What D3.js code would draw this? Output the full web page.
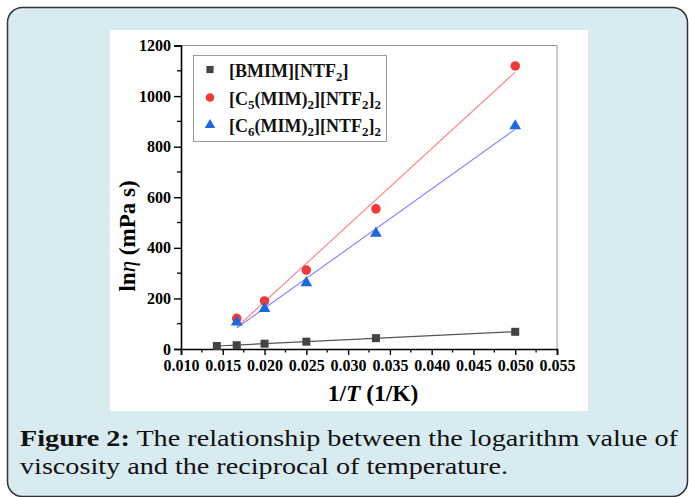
<!DOCTYPE html>
<html><head><meta charset="utf-8">
<script src="https://cdn.jsdelivr.net/npm/d3@7/dist/d3.min.js"></script>
<style>body{margin:0;background:#fff;} svg{display:block;} svg text{font-family:"Liberation Serif","Times New Roman",Times,serif;}</style>
</head><body>
<svg id="c" width="689" height="497"></svg>
<script>
// ---- data ----
const bmimX = [0.01429, 0.01667, 0.02, 0.025, 0.03333, 0.05];
const bmimY = [12, 15, 21, 29, 43, 68];
const c5X = [0.01667, 0.02, 0.025, 0.03333, 0.05];
const c5Y = [121, 190, 312, 554, 1119];
const c6X = [0.01667, 0.02, 0.025, 0.03333, 0.05];
const c6Y = [106, 160, 262, 457, 882];
const xTicks = [0.010, 0.015, 0.020, 0.025, 0.030, 0.035, 0.040, 0.045, 0.050, 0.055];
const yTicks = [0, 200, 400, 600, 800, 1000, 1200];
const captionBold = "Figure 2:";
const captionLine1 = " The relationship between the logarithm value of";
const captionLine2 = "viscosity and the reciprocal of temperature.";

const svg = d3.select("#c");
const serif = '"Liberation Serif","Times New Roman",Times,serif';
// card
svg.append("rect").attr("x",7.5).attr("y",7.5).attr("width",680).attr("height",489)
  .attr("rx",15).attr("fill","#d8ebf1").attr("stroke","#333").attr("stroke-width",1.5);
// white panel
svg.append("rect").attr("x",110).attr("y",30).attr("width",478).attr("height",381).attr("fill","#fefefe");

const x = d3.scaleLinear().domain([0.010,0.055]).range([181,557]);
const y = d3.scaleLinear().domain([0,1200]).range([349,45.5]);

// frame top/right
svg.append("path").attr("d",`M${x(0.010)},${y(1200)}H${x(0.055)}V${y(0)}`)
  .attr("fill","none").attr("stroke","#999").attr("stroke-width",1);

const xMinor = d3.range(0.0125, 0.055, 0.005);
const yMinor = d3.range(100, 1200, 200);
const gx = svg.append("g").attr("transform",`translate(0,${y(0)})`)
  .call(d3.axisBottom(x).tickValues(xTicks).tickFormat(d3.format(".3f")).tickSizeOuter(0).tickSize(6).tickPadding(5));
gx.append("g").selectAll("line").data(xMinor).join("line")
  .attr("x1",d=>x(d)).attr("x2",d=>x(d)).attr("y1",0).attr("y2",3.5).attr("stroke","#000").attr("stroke-width",1.3);
const gy = svg.append("g").attr("transform",`translate(${x(0.010)},0)`)
  .call(d3.axisLeft(y).tickValues(yTicks).tickFormat(d3.format("d")).tickSizeOuter(0).tickSize(7).tickPadding(3));
gy.append("g").selectAll("line").data(yMinor).join("line")
  .attr("y1",d=>y(d)).attr("y2",d=>y(d)).attr("x1",0).attr("x2",-4).attr("stroke","#000").attr("stroke-width",1.3);
[gx,gy].forEach(g=>{
  g.attr("font-family",null).attr("font-size",null);
  g.select(".domain").attr("stroke","#000").attr("stroke-width",1.6);
  g.selectAll(".tick line").attr("stroke","#000").attr("stroke-width",1.4);
  g.selectAll("text").attr("font-family",serif).attr("font-weight","bold").attr("font-size",16).attr("fill","#000");
});

function fit(xs, ys){
  const mx=d3.mean(xs), my=d3.mean(ys);
  const b=d3.sum(xs,(v,i)=>(v-mx)*(ys[i]-my))/d3.sum(xs,v=>(v-mx)*(v-mx));
  return v=>my+b*(v-mx);
}
const series = [
  {xs:bmimX, ys:bmimY, line:"#555", col:"#444", shape:d3.symbolSquare, size:64},
  {xs:c5X, ys:c5Y, line:"#ff8a8a", col:"#f03a3a", shape:d3.symbolCircle, size:72},
  {xs:c6X, ys:c6Y, line:"#8a8aff", col:"#1f68dc", shape:d3.symbolTriangle, size:60},
];
series.forEach(s=>{
  const f = fit(s.xs, s.ys);
  const x0=d3.min(s.xs), x1=d3.max(s.xs);
  svg.append("line").attr("x1",x(x0)).attr("y1",y(f(x0))).attr("x2",x(x1)).attr("y2",y(f(x1)))
    .attr("stroke",s.line).attr("stroke-width",1.2);
});
series.forEach(s=>{
  svg.append("g").selectAll("path").data(s.xs).join("path")
    .attr("d",d3.symbol().type(s.shape).size(s.size))
    .attr("transform",(d,i)=>`translate(${x(d)},${y(s.ys[i])})`)
    .attr("fill",s.col);
});

// legend
svg.append("rect").attr("x",193.5).attr("y",55.5).attr("width",193).attr("height",86)
  .attr("fill","#fff").attr("stroke","#999").attr("stroke-width",1);
const legendRows = [
  [["[BMIM][NTF",0],["2",1],["]",0]],
  [["[C",0],["5",1],["(MIM)",0],["2",1],["][NTF",0],["2",1],["]",0],["2",1]],
  [["[C",0],["6",1],["(MIM)",0],["2",1],["][NTF",0],["2",1],["]",0],["2",1]],
];
const rowY = [69.5, 97.5, 125];
legendRows.forEach((parts,i)=>{
  const s = series[i];
  svg.append("path").attr("d",d3.symbol().type(s.shape).size(s.size*0.8)())
    .attr("transform",`translate(210,${rowY[i]})`).attr("fill",s.col);
  const t = svg.append("text").attr("x",229).attr("y",rowY[i]+7)
    .style("font-family",serif).style("font-weight","bold").style("font-size","18px").attr("fill","#111");
  let prevSub=false;
  parts.forEach(([txt,sub])=>{
    const ts=t.append("tspan").text(txt);
    if(sub){ts.style("font-size","13px").attr("dy",prevSub?0:4);}
    else if(prevSub){ts.attr("dy",-4);}
    prevSub=!!sub;
  });
});

// axis titles
const yl = svg.append("text").attr("transform","translate(135,236) rotate(-90)")
  .attr("text-anchor","middle").style("font-family",serif).style("font-size","23px").style("font-weight","bold").attr("fill","#000");
yl.append("tspan").text("ln");
yl.append("tspan").text("η").style("font-style","italic").style("font-weight","normal");
yl.append("tspan").text(" (mPa s)");
const xl = svg.append("text").attr("x",373).attr("y",401)
  .attr("text-anchor","middle").style("font-family",serif).style("font-size","23.5px").style("font-weight","bold").attr("fill","#000");
xl.append("tspan").text("1/");
xl.append("tspan").text("T").style("font-style","italic");
xl.append("tspan").text(" (1/K)");

// caption
const cap1 = svg.append("text").attr("x",20).attr("y",446).style("font-family",serif)
  .style("font-size","24px").attr("fill","#111").attr("textLength",658).attr("lengthAdjust","spacingAndGlyphs");
cap1.append("tspan").text(captionBold).style("font-weight","bold");
cap1.append("tspan").text(captionLine1);
svg.append("text").attr("x",20).attr("y",474).style("font-family",serif)
  .style("font-size","24px").attr("fill","#111").attr("textLength",488).attr("lengthAdjust","spacingAndGlyphs")
  .text(captionLine2);
</script>
</body></html>
